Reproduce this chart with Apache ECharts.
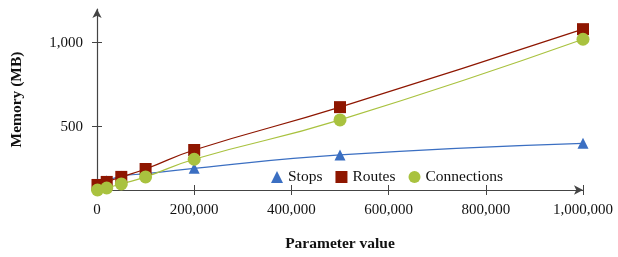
<!DOCTYPE html>
<html>
<head>
<meta charset="utf-8">
<script src="https://cdn.jsdelivr.net/npm/echarts@6/dist/echarts.min.js"></script>
<style>
  html, body { margin: 0; padding: 0; background: #fff; }
  #main { width: 618px; height: 257px; }
</style>
</head>
<body>
<div id="main"></div>
<script>
// parameter values (x) and memory in MB for each series
const params = [1000, 20000, 50000, 100000, 200000, 500000, 1000000];
const stops = [160, 178, 205, 220, 252, 332, 401];
const routes = [153, 171, 201, 248, 361, 616, 1080];
const connections = [123, 135, 159, 201, 306, 540, 1020];
const yTicks = [500, 1000];

const font = "Liberation Serif";
let chart = echarts.init(document.getElementById('main'));

function pairs(values) {
    let res = [];
    for (let i = 0; i < params.length; i++) {
        res.push([params[i], values[i]]);
    }
    return res;
}

function makeSeries(name, values, color, symbol, size) {
    return {
        name: name, type: 'line', smooth: 0.5, clip: false,
        data: pairs(values),
        symbol: symbol, symbolSize: size, showSymbol: true,
        itemStyle: {color: color},
        lineStyle: {color: color, width: 1.2}
    };
}

const axisColor = '#444';

let option = {
    animation: false,
    grid: {left: 97, right: 35, top: 9, bottom: 66},
    legend: {
        left: 266, top: 164,
        itemWidth: 12, itemHeight: 12, itemGap: 13,
        textStyle: {fontFamily: font, fontSize: 15.5, color: '#111'},
        data: [
            {name: 'Stops', icon: 'triangle'},
            {name: 'Routes', icon: 'rect'},
            {name: 'Connections', icon: 'circle'}
        ]
    },
    xAxis: [{
        type: 'value', min: 0, max: 1000000, interval: 200000,
        name: 'Parameter value', nameLocation: 'middle', nameGap: 46,
        nameTextStyle: {fontFamily: font, fontSize: 15.5, fontWeight: 'bold', color: '#111'},
        splitLine: {show: false},
        axisLine: {lineStyle: {color: axisColor, width: 1.2}, symbol: ['none', 'arrow'], symbolSize: [7, 9]},
        axisTick: {length: 5, lineStyle: {color: axisColor}},
        axisLabel: {
            fontFamily: font, fontSize: 15, color: '#111', margin: 13,
            formatter: v => v.toLocaleString('en-US')
        }
    }, {
        type: 'value', min: 0, max: 1000000, interval: 200000, position: 'bottom',
        splitLine: {show: false}, axisLine: {show: false}, axisLabel: {show: false},
        axisTick: {inside: true, length: 5, lineStyle: {color: axisColor}}
    }],
    yAxis: [{
        type: 'value', min: 123, max: 1200,
        name: 'Memory (MB)', nameLocation: 'middle', nameGap: 72, nameRotate: 90,
        nameTextStyle: {fontFamily: font, fontSize: 15.5, fontWeight: 'bold', color: '#111'},
        splitLine: {show: false},
        axisLine: {show: true, lineStyle: {color: axisColor, width: 1.2}, symbol: ['none', 'arrow'], symbolSize: [7, 9]},
        axisTick: {show: true, length: 5, customValues: yTicks, lineStyle: {color: axisColor}},
        axisLabel: {
            fontFamily: font, fontSize: 15, color: '#111', margin: 14,
            customValues: yTicks,
            formatter: v => v.toLocaleString('en-US')
        }
    }, {
        type: 'value', min: 123, max: 1200, position: 'left',
        splitLine: {show: false}, axisLine: {show: false}, axisLabel: {show: false},
        axisTick: {show: true, inside: true, length: 5, customValues: yTicks, lineStyle: {color: axisColor}}
    }],
    series: [
        makeSeries('Stops', stops, '#3b6fc2', 'triangle', 11),
        makeSeries('Routes', routes, '#8e1600', 'rect', 12),
        makeSeries('Connections', connections, '#a9c23f', 'circle', 13)
    ]
};

chart.setOption(option);
</script>
</body>
</html>
